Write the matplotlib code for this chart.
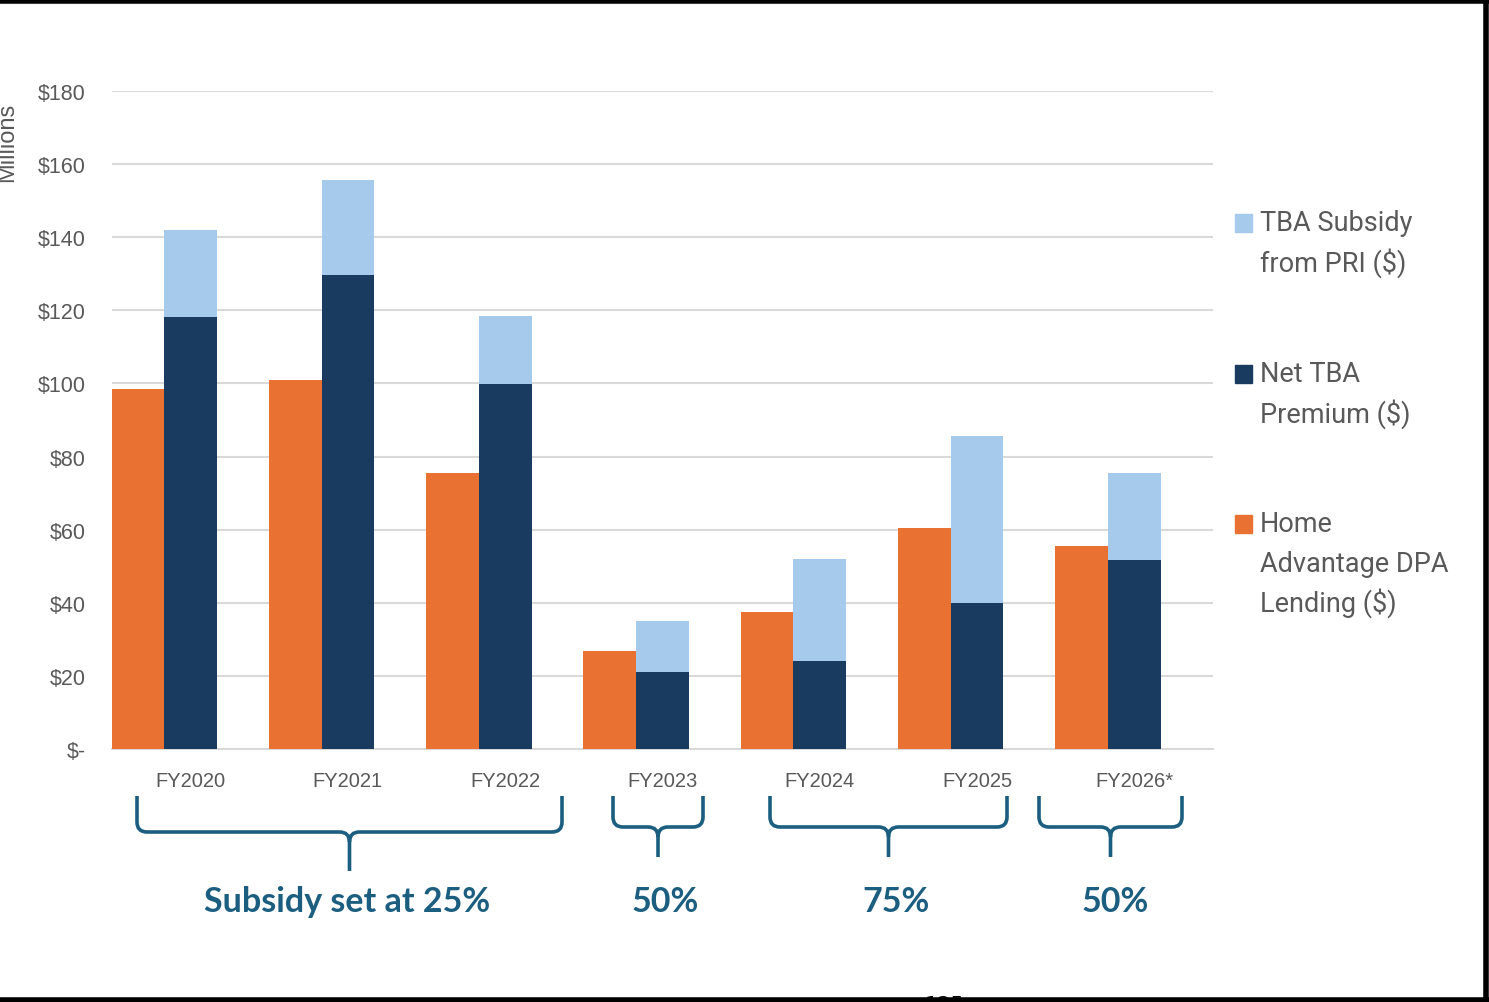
import matplotlib.pyplot as plt
from matplotlib.patches import Rectangle, PathPatch
from matplotlib.path import Path
from matplotlib.lines import Line2D
import numpy as np

years = ["FY2020", "FY2021", "FY2022", "FY2023", "FY2024", "FY2025", "FY2026*"]
dpa_lending = [98.5, 100.9, 75.5, 26.8, 37.5, 60.4, 55.5]
net_tba = [118.2, 129.7, 99.8, 21.1, 24.1, 39.9, 51.7]
tba_subsidy = [23.8, 25.9, 18.6, 13.9, 27.9, 45.7, 23.8]
yticks = [0, 20, 40, 60, 80, 100, 120, 140, 160, 180]
ytick_labels = ["$-", "$20", "$40", "$60", "$80", "$100", "$120", "$140", "$160", "$180"]

# subsidy groups: (first idx, last idx, label)
groups = [(0, 2, "Subsidy set at 25%"), (3, 3, "50%"), (4, 5, "75%"), (6, 6, "50%")]

orange = "#E97132"
navy = "#183B5F"
light = "#A6CAEC"
teal = "#1B5E80"
grey = "#595959"

W, H = 1489, 1003
fig = plt.figure(figsize=(W / 100, H / 100), dpi=100)
ax = fig.add_axes([112 / W, (H - 750) / H, (1213 - 112) / W, (750 - 92) / H])

x = np.arange(len(years))
bw = 0.335
ax.bar(x - bw, dpa_lending, bw, color=orange, zorder=3)
ax.bar(x, net_tba, bw, color=navy, zorder=3)
ax.bar(x, tba_subsidy, bw, bottom=net_tba, color=light, zorder=3)

ax.set_xlim(-0.5, len(years) - 0.5)
ax.set_ylim(0, 180)
ax.set_yticks(yticks)
ax.set_yticklabels(ytick_labels)
ax.set_xticks(x)
ax.set_xticklabels(years)
ax.tick_params(axis="y", length=0, pad=19, labelsize=15.5, labelcolor=grey)
ax.tick_params(axis="x", length=0, pad=16, labelsize=14.5, labelcolor=grey)
for lab in ax.get_xticklabels() + ax.get_yticklabels():
    lab.set_fontfamily("Liberation Sans")
ax.grid(axis="y", color="#d9d9d9", lw=1.5, zorder=0)
for s in ["top", "right", "left"]:
    ax.spines[s].set_visible(False)
ax.spines["bottom"].set_color("#d9d9d9")
ax.spines["bottom"].set_linewidth(1.5)

fig.text(7 / W, 1 - 142 / H, "Millions", rotation=90, ha="center", va="center",
         fontsize=17, color=grey, family="Liberation Sans")

# legend drawn by hand so the square sits at the first line
legend = [(light, ["TBA Subsidy", "from PRI ($)"], 224),
          (navy, ["Net TBA", "Premium ($)"], 375),
          (orange, ["Home", "Advantage DPA", "Lending ($)"], 525)]
for col, lines, ytop in legend:
    fig.patches.append(Rectangle((1235 / W, 1 - (ytop + 9) / H), 17 / W, 18 / H,
                                 transform=fig.transFigure, color=col))
    for k, t in enumerate(lines):
        fig.text(1260 / W, 1 - (ytop + 39 * k) / H, t, ha="left", va="center",
                 fontsize=19.5, color=grey, family="Roboto")


def brace(x0, x1, ytop, yh, ytip, r=10):
    xm = (x0 + x1) / 2
    pts = [(x0, ytop), (x0, yh - r), (x0, yh), (x0 + r, yh),
           (xm - r, yh), (xm, yh), (xm, yh + r), (xm, ytip)]
    codes = [Path.MOVETO, Path.LINETO, Path.CURVE3, Path.CURVE3,
             Path.LINETO, Path.CURVE3, Path.CURVE3, Path.LINETO]
    pts2 = [(x1, ytop), (x1, yh - r), (x1, yh), (x1 - r, yh),
            (xm + r, yh), (xm, yh), (xm, yh + r)]
    codes2 = [Path.MOVETO, Path.LINETO, Path.CURVE3, Path.CURVE3,
              Path.LINETO, Path.CURVE3, Path.CURVE3]
    allp = [(px / W, 1 - py / H) for px, py in pts + pts2]
    p = Path(allp, codes + codes2)
    fig.patches.append(PathPatch(p, transform=fig.transFigure, fill=False,
                                 edgecolor=teal, lw=2.6, capstyle="butt"))


brace_geom = [(137, 562, 797, 833, 872), (613, 703, 797, 828, 858),
              (770, 1007, 797, 828, 858), (1039, 1182, 797, 828, 858)]
label_x = [347, 665, 896, 1115]
for (i0, i1, lab), (bx0, bx1, yt, yh, ytip), lx in zip(groups, brace_geom, label_x):
    brace(bx0, bx1, yt, yh, ytip)
    fig.text(lx / W, 1 - 902 / H, lab, ha="center", va="center", fontsize=24.5,
             fontweight="bold", color=teal, family="Lato")

# page number peeking under the frame
fig.text(945 / W, 1 - 1006 / H, "125", ha="center", va="center", fontsize=15, color="black")

# frame
for xs, ys in [((0, 1), (1 - 2 / H, 1 - 2 / H)),
               ((1 - 3 / W, 1 - 3 / W), (0, 1)),
               ((0, 1), (2 / H, 2 / H))]:
    fig.add_artist(Line2D(xs, ys, transform=fig.transFigure, color="black", lw=4, zorder=10))

fig.savefig("out.png", dpi=100)
